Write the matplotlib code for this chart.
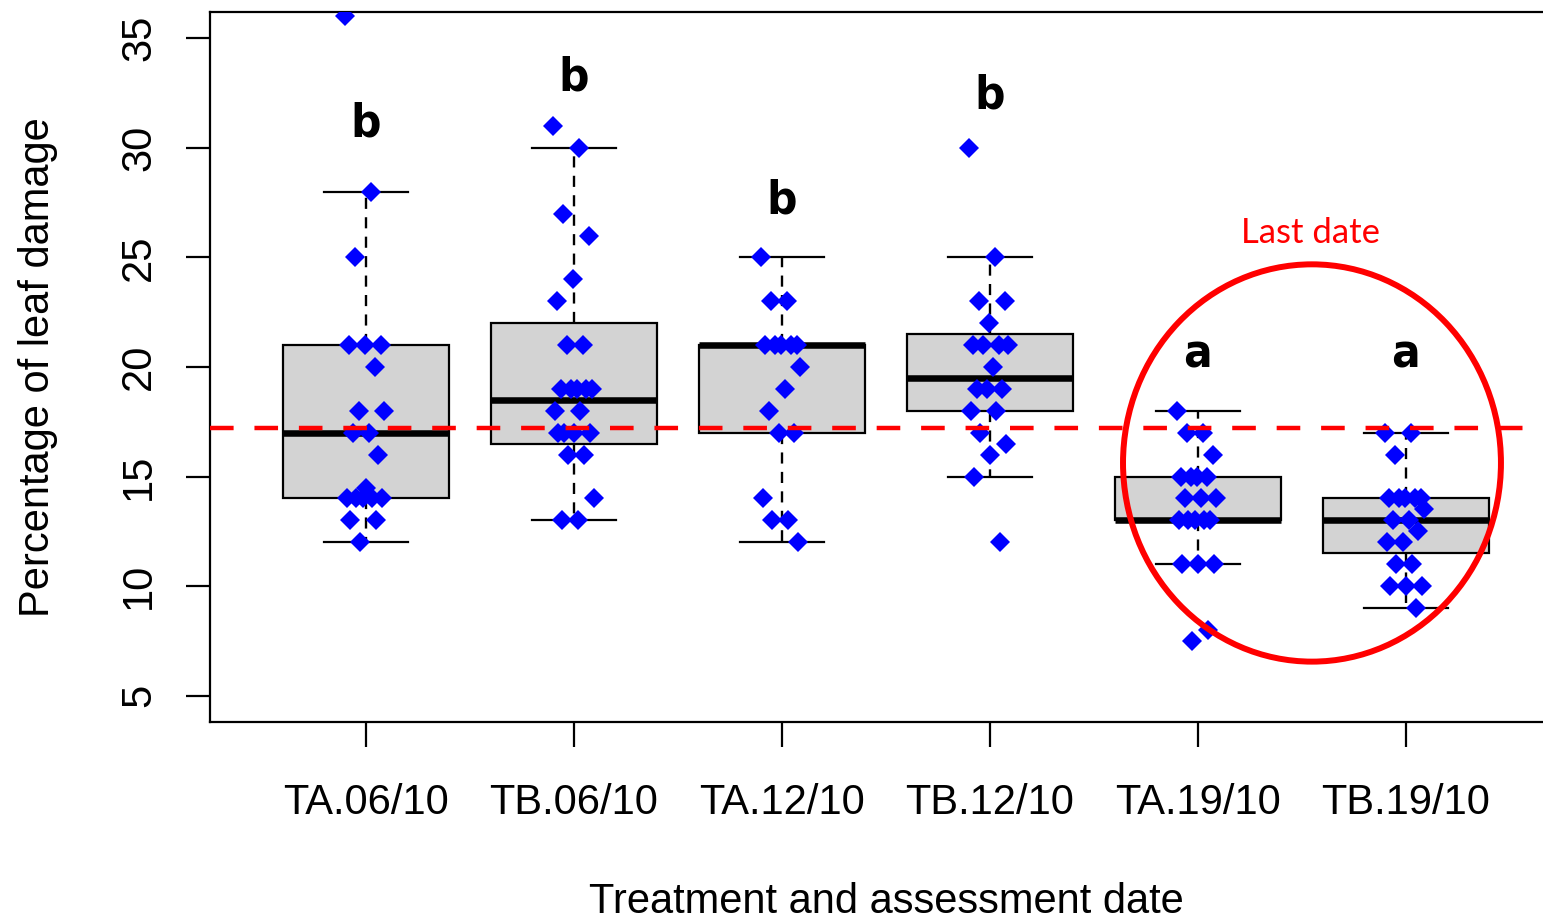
import numpy as np
import matplotlib.pyplot as plt
from matplotlib.patches import Ellipse

groups = ['TA.06/10', 'TB.06/10', 'TA.12/10', 'TB.12/10', 'TA.19/10', 'TB.19/10']

# leaf damage (%) scored on each plant
ta_0610 = [36, 28, 25, 21, 21, 21, 20, 18, 18, 17, 17, 16, 14, 14, 14, 14, 14, 14.5, 13, 13, 12]
tb_0610 = [31, 30, 27, 26, 24, 23, 21, 21, 19, 19, 19, 19, 19, 18, 18, 17, 17, 17, 17, 16, 16, 14, 13, 13]
ta_1210 = [25, 23, 23, 21, 21, 21, 21, 21, 20, 19, 18, 17, 17, 14, 13, 13, 12]
tb_1210 = [30, 25, 23, 23, 22, 21, 21, 21, 21, 20, 19, 19, 19, 18, 18, 17, 16.5, 16, 15, 12]
ta_1910 = [18, 17, 17, 16, 15, 15, 15, 15, 14, 14, 14, 13, 13, 13, 13, 13, 11, 11, 11, 8, 7.5]
tb_1910 = [17, 17, 16, 14, 14, 14, 14, 14, 13.5, 13, 13, 12.5, 12, 12, 11, 11, 10, 10, 10, 9]
damage = [ta_0610, tb_0610, ta_1210, tb_1210, ta_1910, tb_1910]

# box statistics (hinges and whisker ends)
whislo = [12, 13, 12, 15, 11, 9]
q1 = [14, 16.5, 17, 18, 13, 11.5]
med = [17, 18.5, 21, 19.5, 13, 13]
q3 = [21, 22, 21, 21.5, 15, 14]
whishi = [28, 30, 25, 25, 18, 17]

letters = ['b', 'b', 'b', 'b', 'a', 'a']
letter_y = [30.5, 32.6, 27.0, 31.8, 20.0, 20.0]
ref_level = 17.2

plt.rcParams['font.family'] = ['Liberation Sans', 'DejaVu Sans']
plt.rcParams['lines.scale_dashes'] = False

fig = plt.figure(figsize=(15.43, 9.21), dpi=100)
ax = fig.add_axes([210 / 1543, 199 / 921, 1352 / 1543, 710 / 921])

pos = np.arange(1, len(groups) + 1)
stats = [dict(whislo=whislo[i], q1=q1[i], med=med[i], q3=q3[i], whishi=whishi[i], fliers=[])
         for i in range(len(groups))]
ax.bxp(stats, positions=pos, widths=0.8, capwidths=0.4, patch_artist=True, showfliers=False,
       boxprops=dict(facecolor='#d3d3d3', edgecolor='black', linewidth=1.6),
       medianprops=dict(color='black', linewidth=4.7, solid_capstyle='butt'),
       whiskerprops=dict(color='black', linewidth=1.7, linestyle=(0, (8, 6))),
       capprops=dict(color='black', linewidth=1.6))

# spread the points sideways with a golden-ratio sequence
for i, vals in enumerate(damage):
    offs = ((np.arange(len(vals)) * 0.618034) % 1 - 0.5) * 0.2
    ax.plot(pos[i] + offs, vals, 'D', color='blue', ms=10.5, mew=0, zorder=3)

ax.axhline(ref_level, color='red', lw=3.2, linestyle=(0, (17, 15)), zorder=4)

for i, t in enumerate(letters):
    ax.text(pos[i], letter_y[i], t, ha='center', va='baseline', fontsize=34,
            fontweight='bold', fontstretch='condensed', family='DejaVu Sans')

ax.add_patch(Ellipse((5.548, 15.62), 1.817, 18.13, fill=False, edgecolor='red',
                     lw=4.3, zorder=5, clip_on=False))
ax.text(5.54, 25.68, 'Last date', color='red', ha='center', va='baseline',
        fontsize=25, family='Lato')

ax.set_xlim(0.25, 6.75)
ax.set_ylim(3.8, 36.2)
ax.set_xticks(pos, groups)
ax.set_yticks(range(5, 40, 5))
ax.tick_params(axis='x', length=18, width=1.6, labelsize=30, pad=26)
ax.tick_params(axis='y', length=17.3, width=1.6, labelsize=30, pad=19.4, labelrotation=90)
for lab in ax.get_yticklabels():
    lab.set_va('center')
for s in ax.spines.values():
    s.set_linewidth(1.6)

ax.set_ylabel('Percentage of leaf damage', fontsize=30)
ax.set_xlabel('Treatment and assessment date', fontsize=30)
ax.yaxis.set_label_coords(-0.1124, 0.5)
ax.xaxis.set_label_coords(0.5, -0.226)

fig.savefig('out.png', dpi=100)
